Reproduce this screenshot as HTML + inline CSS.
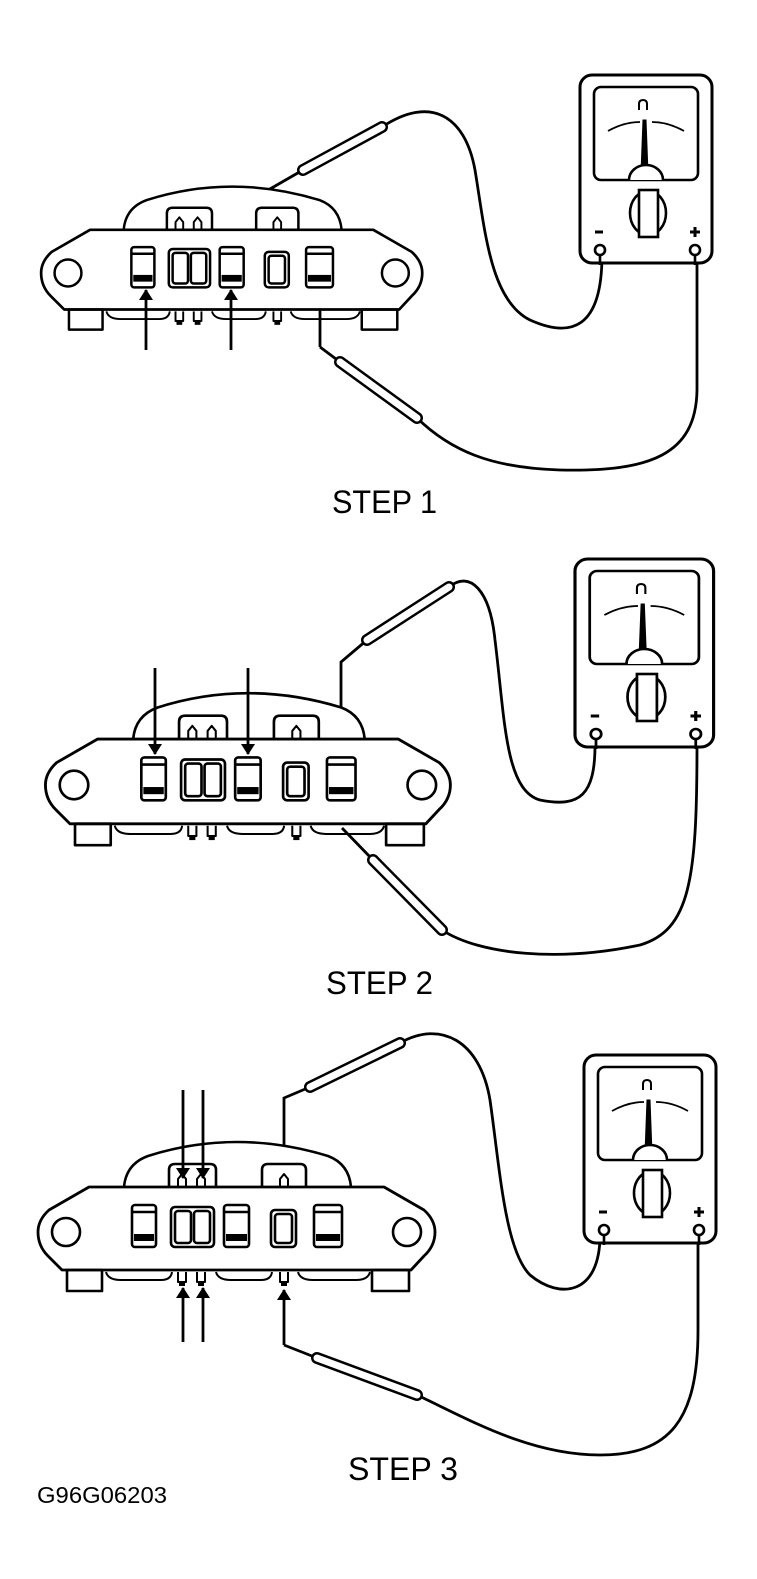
<!DOCTYPE html>
<html><head><meta charset="utf-8"><style>
html,body{margin:0;padding:0;background:#fff}
svg{display:block}
text{font-family:"Liberation Sans",Arial,sans-serif;fill:#000}
</style></head><body>
<svg width="757" height="1579" viewBox="0 0 757 1579" xmlns="http://www.w3.org/2000/svg">
<defs>
<marker id="ah" markerWidth="11" markerHeight="14" refX="10" refY="7" orient="auto" markerUnits="userSpaceOnUse" viewBox="0 0 11 14">
<path d="M0,0 L11,7 L0,14 Z" fill="#000"/>
</marker>
<g id="asm" fill="none" stroke="#000" stroke-width="2.6" stroke-linejoin="round">
<path d="M58,-45 Q60,-68 82,-76 Q170,-104 262,-76 Q283,-68 285,-45" fill="#fff"/>
<path d="M103,-45 L103,-62 Q103,-68 109,-68 L144,-68 Q150,-68 150,-62 L150,-45" fill="#fff"/>
<path d="M196,-45 L196,-62 Q196,-68 202,-68 L234,-68 Q240,-68 240,-62 L240,-45" fill="#fff"/>
<path d="M112,-45 L112,-53 L116,-58 L120,-53 L120,-45 Z M131,-45 L131,-53 L135,-58 L139,-53 L139,-45 Z M214,-45 L214,-53 L218,-58 L222,-53 L222,-45 Z" fill="#fff" stroke-width="2"/>
<path d="M40,40 Q42,48 55,48 L95,48 Q105,48 106,40 M150,40 Q152,48 165,48 L195,48 Q205,48 206,40 M232,40 Q234,48 247,48 L290,48 Q302,48 304,40" stroke-width="2"/>
<path d="M112,40 L112,50 L120,50 L120,40 M131,40 L131,50 L139,50 L139,40 M214,40 L214,50 L222,50 L222,40" fill="#fff" stroke-width="2"/>
<rect x="113" y="49" width="6" height="5" fill="#000" stroke="none"/><rect x="132" y="49" width="6" height="5" fill="#000" stroke="none"/><rect x="215" y="49" width="6" height="5" fill="#000" stroke="none"/>
<path d="M23,-45 L318,-45 L358,-22 Q369,-12 369,0 Q369,14 358,24 L345,38 L-4,38 L-18,24 Q-28,14 -28,0 Q-28,-12 -17,-22 Z" fill="#fff" stroke-width="2.8"/>
<circle cx="0" cy="0" r="14"/><circle cx="341" cy="0" r="14"/>
<rect x="1" y="38" width="35" height="21"/><rect x="306" y="38" width="37" height="21"/>
<rect x="66" y="-27" width="24" height="42" rx="3"/><line x1="67" y1="-20" x2="89" y2="-20"/><rect x="68" y="2" width="20" height="7" fill="#000" stroke="none"/>
<rect x="105" y="-25" width="43" height="40" rx="4"/><rect x="109" y="-21" width="16" height="32" rx="3"/><rect x="128" y="-21" width="16" height="32" rx="3"/>
<rect x="158" y="-27" width="25" height="42" rx="3"/><line x1="159" y1="-20" x2="182" y2="-20"/><rect x="160" y="2" width="21" height="7" fill="#000" stroke="none"/>
<rect x="205" y="-22" width="25" height="37" rx="4"/><rect x="209" y="-18" width="17" height="29" rx="3"/>
<rect x="248" y="-27" width="28" height="42" rx="3"/><line x1="249" y1="-20" x2="275" y2="-20"/><rect x="250" y="2" width="24" height="7" fill="#000" stroke="none"/>
</g>
<g id="meter" fill="none" stroke="#000" stroke-width="2.6">
<rect x="0" y="0" width="132" height="188" rx="12" fill="#fff" stroke-width="3"/>
<rect x="14" y="12" width="104" height="93" rx="7"/>
<path d="M59,35 L59,29 Q59,25 63,25 Q67,25 67,29 L67,35" stroke-width="2"/>
<path d="M28,56 Q44,47 60,47 M72,47 Q88,47 104,56" stroke-width="1.8"/>
<path d="M63,45 L66,45 L68,98 L61,98 Z" fill="#000" stroke-width="1"/>
<path d="M49,105 A17,15 0 0 1 83,105" fill="#fff"/>
<ellipse cx="68" cy="138" rx="18" ry="22"/>
<rect x="59" y="115" width="19" height="47" fill="#fff"/>
<line x1="15" y1="157" x2="23" y2="157" stroke-width="3"/>
<path d="M110,157 L120,157 M115,152 L115,162" stroke-width="3"/>
<circle cx="20" cy="175" r="5" fill="#fff"/><circle cx="115" cy="175" r="5" fill="#fff"/>
<line x1="20" y1="180" x2="20" y2="190"/><line x1="115" y1="180" x2="115" y2="190"/>
</g>
</defs>

<!-- STEP 1 -->
<g fill="none" stroke="#000" stroke-width="2.8">
<path d="M382,127 C430,95 465,115 475,170 C485,230 490,300 530,320 C570,338 602,330 602,255"/>
<path d="M417,418 C450,450 490,468 560,470 C650,472 696,455 697,390 L697,255"/>
<path d="M263,193 L303,170"/>
<path d="M320,347 L320,293" marker-end="url(#ah)"/>
<path d="M320,347 L340,362"/>
</g>
<use href="#asm" transform="translate(68,273) scale(0.96)"/>
<g stroke-linecap="round"><line x1="303" y1="170" x2="382" y2="127" stroke="#000" stroke-width="12"/><line x1="303" y1="170" x2="382" y2="127" stroke="#fff" stroke-width="7"/>
<line x1="340" y1="362" x2="417" y2="418" stroke="#000" stroke-width="12"/><line x1="340" y1="362" x2="417" y2="418" stroke="#fff" stroke-width="7"/></g>
<g stroke="#000" stroke-width="2.8"><line x1="146" y1="350" x2="146" y2="290" marker-end="url(#ah)"/><line x1="231" y1="350" x2="231" y2="290" marker-end="url(#ah)"/></g>
<use href="#meter" transform="translate(580,75)"/>
<text x="332" y="513" font-size="32" textLength="105" lengthAdjust="spacingAndGlyphs">STEP 1</text>

<!-- STEP 2 -->
<g fill="none" stroke="#000" stroke-width="2.8">
<path d="M449,587 C470,570 490,590 495,640 C505,720 505,790 540,800 C580,808 595,795 595,745"/>
<path d="M442,930 C480,955 560,962 640,945 C690,930 697,880 697,745"/>
<path d="M367,640 L341,662 L341,752" marker-end="url(#ah)"/>
<path d="M342,828 L373,860"/>
</g>
<use href="#asm" transform="translate(74,785) scale(1.02)"/>
<g stroke-linecap="round"><line x1="373" y1="860" x2="442" y2="930" stroke="#000" stroke-width="12"/><line x1="373" y1="860" x2="442" y2="930" stroke="#fff" stroke-width="7"/>
<line x1="367" y1="640" x2="449" y2="587" stroke="#000" stroke-width="12"/><line x1="367" y1="640" x2="449" y2="587" stroke="#fff" stroke-width="7"/></g>
<g stroke="#000" stroke-width="2.8"><line x1="155" y1="668" x2="155" y2="754" marker-end="url(#ah)"/><line x1="248" y1="668" x2="248" y2="754" marker-end="url(#ah)"/></g>
<use href="#meter" transform="translate(575,559) scale(1.05,1)"/>
<text x="326" y="994" font-size="32" textLength="107" lengthAdjust="spacingAndGlyphs">STEP 2</text>

<!-- STEP 3 -->
<g fill="none" stroke="#000" stroke-width="2.8">
<path d="M400,1043 C440,1020 480,1040 490,1100 C500,1170 505,1250 530,1275 C560,1300 600,1295 600,1235"/>
<path d="M417,1395 C470,1420 530,1455 600,1455 C670,1455 698,1420 698,1330 L698,1235"/>
<path d="M310,1087 L284,1098 L284,1179" marker-end="url(#ah)"/>
<path d="M284,1345 L284,1290" marker-end="url(#ah)"/>
<path d="M284,1345 L317,1358"/>
</g>
<use href="#asm" transform="translate(66,1232)"/>
<g stroke-linecap="round"><line x1="310" y1="1087" x2="400" y2="1043" stroke="#000" stroke-width="12"/><line x1="310" y1="1087" x2="400" y2="1043" stroke="#fff" stroke-width="7"/>
<line x1="317" y1="1358" x2="417" y2="1395" stroke="#000" stroke-width="12"/><line x1="317" y1="1358" x2="417" y2="1395" stroke="#fff" stroke-width="7"/></g>
<g stroke="#000" stroke-width="2.8">
<line x1="183" y1="1090" x2="183" y2="1178" marker-end="url(#ah)"/><line x1="203" y1="1090" x2="203" y2="1178" marker-end="url(#ah)"/>
<line x1="183" y1="1342" x2="183" y2="1288" marker-end="url(#ah)"/><line x1="203" y1="1342" x2="203" y2="1288" marker-end="url(#ah)"/>
</g>
<use href="#meter" transform="translate(584,1055)"/>
<text x="348" y="1480" font-size="32" textLength="110" lengthAdjust="spacingAndGlyphs">STEP 3</text>
<text x="37" y="1503" font-size="23" textLength="130" lengthAdjust="spacingAndGlyphs">G96G06203</text>
</svg>
</body></html>
